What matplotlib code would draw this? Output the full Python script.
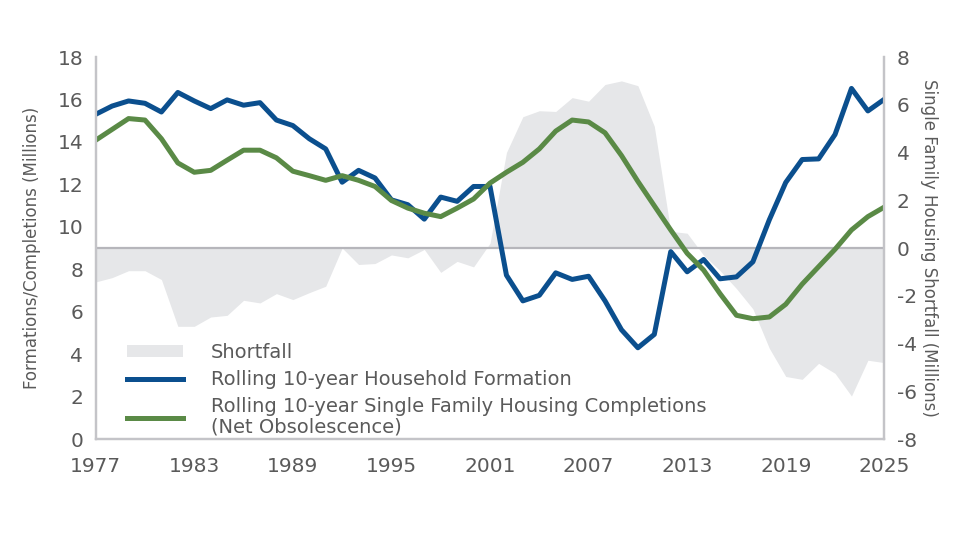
import matplotlib

matplotlib.use("Agg")

import matplotlib.pyplot as plt
from matplotlib.lines import Line2D
from matplotlib.patches import Patch

plt.rcParams["font.family"] = ["DejaVu Sans"]
plt.rcParams["axes.unicode_minus"] = False

years = list(range(1977, 2026))

formation = [
    15.30, 15.69, 15.93, 15.82, 15.41, 16.33, 15.93, 15.57, 15.98, 15.73,
    15.85, 15.03, 14.77, 14.15, 13.67, 12.10, 12.66, 12.30, 11.27, 11.04,
    10.36, 11.40, 11.20, 11.90, 11.90, 7.72, 6.51, 6.77, 7.83, 7.52,
    7.67, 6.51, 5.15, 4.30, 4.93, 8.83, 7.88, 8.46, 7.55, 7.64,
    8.35, 10.33, 12.09, 13.17, 13.20, 14.35, 16.52, 15.46, 16.01,
]

completions = [
    14.08, 14.59, 15.10, 15.03, 14.15, 13.01, 12.57, 12.66, 13.14, 13.61,
    13.61, 13.25, 12.62, 12.41, 12.19, 12.41, 12.19, 11.90, 11.24, 10.88,
    10.64, 10.48, 10.88, 11.31, 12.06, 12.57, 13.04, 13.67, 14.51, 15.03,
    14.94, 14.43, 13.36, 12.14, 10.99, 9.85, 8.75, 7.96, 6.85, 5.83,
    5.67, 5.75, 6.35, 7.30, 8.12, 8.94, 9.85, 10.48, 10.93,
]

shortfall = [
    -1.42, -1.24, -0.95, -0.95, -1.32, -3.28, -3.28, -2.89, -2.82, -2.19,
    -2.30, -1.91, -2.16, -1.87, -1.60, 0.00, -0.69, -0.65, -0.29, -0.41,
    -0.06, -1.02, -0.56, -0.79, 0.20, 4.00, 5.50, 5.75, 5.72, 6.30,
    6.15, 6.85, 7.00, 6.80, 5.10, 0.70, 0.62, -0.30, -0.95, -1.70,
    -2.55, -4.20, -5.38, -5.50, -4.83, -5.25, -6.20, -4.70, -4.80,
]

x_ticks = [1977, 1983, 1989, 1995, 2001, 2007, 2013, 2019, 2025]
left_ticks = [0, 2, 4, 6, 8, 10, 12, 14, 16, 18]
right_ticks = [-8, -6, -4, -2, 0, 2, 4, 6, 8]

BLUE = "#0b4f8e"
GREEN = "#5a8a46"
FILL = "#e6e7e9"
TEXT = "#5a5a5a"
SPINE = "#c4c4c8"

fig = plt.figure(figsize=(9.55, 5.4), dpi=100)
ax_r = fig.add_axes([0.1002, 0.187, 0.8258, 0.7074])
ax_l = ax_r.twinx()

# shortfall area on the right-hand scale (drawn underneath)
ax_r.fill_between(years, shortfall, 0, color=FILL, linewidth=0)
ax_r.axhline(0, color="#b6b6bb", linewidth=1.6)
ax_r.set_ylim(-8, 8)
ax_r.set_yticks(right_ticks)
ax_r.yaxis.tick_right()
ax_r.yaxis.set_label_position("right")
ax_r.set_ylabel("Single Family Housing Shortfall (Millions)", rotation=-90,
                fontsize=12, color=TEXT, labelpad=15)

# rolling lines on the left-hand scale
ax_l.plot(years, formation, color=BLUE, linewidth=3.6, solid_joinstyle="round",
          solid_capstyle="butt")
ax_l.plot(years, completions, color=GREEN, linewidth=3.6, solid_joinstyle="round",
          solid_capstyle="butt")
ax_l.set_ylim(0, 18)
ax_l.set_yticks(left_ticks)
ax_l.yaxis.tick_left()
ax_l.yaxis.set_label_position("left")
ax_l.set_ylabel("Formations/Completions (Millions)", fontsize=12, color=TEXT,
                labelpad=12)

ax_r.set_xlim(1977, 2025)
ax_r.set_xticks(x_ticks)

for a in (ax_r, ax_l):
    a.tick_params(length=0, labelsize=14.5, labelcolor=TEXT, pad=9)
    a.spines["top"].set_visible(False)
    for side in ("left", "right", "bottom"):
        a.spines[side].set_color(SPINE)
        a.spines[side].set_linewidth(1.6)
ax_r.tick_params(axis="x", pad=13)

handles = [
    Patch(facecolor=FILL, edgecolor="none"),
    Line2D([], [], color=BLUE, linewidth=3.6),
    Line2D([], [], color=GREEN, linewidth=3.6),
]
labels = [
    "Shortfall",
    "Rolling 10-year Household Formation",
    "Rolling 10-year Single Family Housing Completions\n(Net Obsolescence)",
]
leg = ax_l.legend(handles, labels, loc="upper left",
                  bbox_to_anchor=(127 / 955, (540 - 343) / 540),
                  bbox_transform=fig.transFigure, frameon=False, fontsize=14,
                  handlelength=2.9, handleheight=0.55, handletextpad=1.4,
                  labelspacing=0.42, borderpad=0, borderaxespad=0)
for t in leg.get_texts():
    t.set_color(TEXT)
    t.set_linespacing(1.05)

fig.savefig("out.png", dpi=100)
